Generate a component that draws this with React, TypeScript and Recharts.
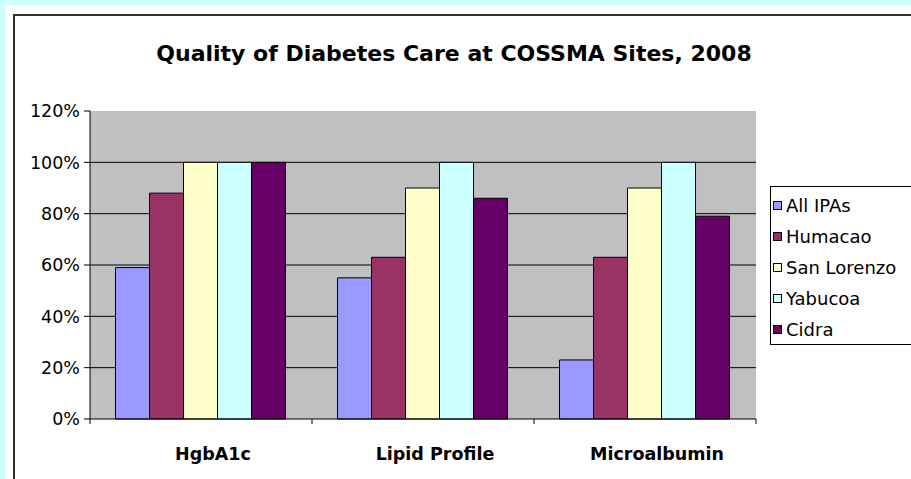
import React from 'react';
import { BarChart, Bar, XAxis, YAxis, CartesianGrid, Legend } from 'recharts';

const categories = ['HgbA1c', 'Lipid Profile', 'Microalbumin'];
const seriesNames = ['All IPAs', 'Humacao', 'San Lorenzo', 'Yabucoa', 'Cidra'];
const allIPAs = [59, 55, 23];
const humacao = [88, 63, 63];
const sanLorenzo = [100, 90, 90];
const yabucoa = [100, 100, 100];
const cidra = [100, 86, 79];
const yTicks = [0, 20, 40, 60, 80, 100, 120];
const gridValues = [20, 40, 60, 80, 100];

const data = categories.map((name, i) => ({
  name,
  allIPAs: allIPAs[i],
  humacao: humacao[i],
  sanLorenzo: sanLorenzo[i],
  yabucoa: yabucoa[i],
  cidra: cidra[i],
}));

const font = '"DejaVu Sans", sans-serif';

const CategoryTick = ({ x, y, payload, index }: any) => {
  const half = payload?.offset ?? 0;
  return (
    <g>
      {index === 0 && <line x1={x - half} y1={y} x2={x - half} y2={y + 5} stroke="#000" />}
      <line x1={x + half} y1={y} x2={x + half} y2={y + 5} stroke="#000" />
      <text
        x={x}
        y={y + 41}
        dx={12}
        textAnchor="middle"
        fill="#000"
        fontSize={17.5}
        fontWeight="bold"
        fontFamily={font}
      >
        {payload.value}
      </text>
    </g>
  );
};

const renderLegend = ({ payload }: any) => {
  const items = [...(payload || [])].sort(
    (a: any, b: any) => seriesNames.indexOf(a.value) - seriesNames.indexOf(b.value)
  );
  return (
    <div
      style={{
        border: '1px solid #000',
        background: '#fff',
        height: 159,
        boxSizing: 'border-box',
        padding: '3px 0 0 2px',
        fontFamily: font,
      }}
    >
      {items.map((entry: any) => (
        <div key={entry.value} style={{ height: 31, display: 'flex', alignItems: 'center' }}>
          <span
            style={{
              display: 'inline-block',
              width: 7,
              height: 7,
              border: '1px solid #000',
              background: entry.color,
              marginRight: 4,
            }}
          />
          <span style={{ fontSize: 18, color: '#000', whiteSpace: 'nowrap' }}>{entry.value}</span>
        </div>
      ))}
    </div>
  );
};

export default function App() {
  return (
    <div
      style={{
        position: 'absolute',
        left: 0,
        top: 0,
        width: 911,
        height: 479,
        background: '#ccffff',
        overflow: 'hidden',
        fontFamily: font,
      }}
    >
      <div style={{ position: 'absolute', left: 5, top: 5, width: 920, height: 490, background: '#fff' }} />
      <div
        style={{
          position: 'absolute',
          left: 13,
          top: 14,
          width: 920,
          height: 490,
          borderLeft: '2px solid #303030',
          borderTop: '2px solid #303030',
        }}
      />
      <div
        style={{
          position: 'absolute',
          left: 0,
          width: 908,
          top: 41,
          lineHeight: '26px',
          textAlign: 'center',
          fontSize: 22,
          fontWeight: 'bold',
          color: '#000',
        }}
      >
        Quality of Diabetes Care at COSSMA Sites, 2008
      </div>
      <div style={{ position: 'absolute', left: 0, top: 0 }}>
        <BarChart
          width={911}
          height={479}
          data={data}
          margin={{ top: 111, right: 155, bottom: 0, left: 0 }}
          barCategoryGap="11.5%"
          barGap={0}
        >
          <CartesianGrid
            vertical={false}
            horizontalValues={gridValues}
            stroke="#000"
            fill="#c0c0c0"
            fillOpacity={1}
          />
          <XAxis
            dataKey="name"
            height={60}
            tickSize={0}
            tickMargin={0}
            tickLine={false}
            axisLine={{ stroke: '#000' }}
            tick={<CategoryTick />}
            interval={0}
          />
          <XAxis
            xAxisId="top"
            orientation="top"
            dataKey="name"
            height={0}
            tick={false}
            tickLine={false}
            axisLine={{ stroke: '#808080' }}
          />
          <YAxis
            width={90}
            domain={[0, 120]}
            ticks={yTicks}
            tickFormatter={(v: number) => `${v}%`}
            tickSize={6}
            tickMargin={4}
            axisLine={{ stroke: '#000' }}
            tickLine={{ stroke: '#000' }}
            tick={{ fill: '#000', fontSize: 17.5, fontFamily: font }}
          />
          <YAxis
            yAxisId="right"
            orientation="right"
            width={0}
            domain={[0, 120]}
            tick={false}
            tickLine={false}
            axisLine={{ stroke: '#808080' }}
          />
          <Legend
            layout="vertical"
            align="center"
            verticalAlign="middle"
            content={renderLegend}
            wrapperStyle={{ left: 770, top: 186, width: 170 }}
          />
          <Bar dataKey="allIPAs" name={seriesNames[0]} fill="#9999ff" stroke="#000" strokeWidth={1} isAnimationActive={false} />
          <Bar dataKey="humacao" name={seriesNames[1]} fill="#993366" stroke="#000" strokeWidth={1} isAnimationActive={false} />
          <Bar dataKey="sanLorenzo" name={seriesNames[2]} fill="#ffffcc" stroke="#000" strokeWidth={1} isAnimationActive={false} />
          <Bar dataKey="yabucoa" name={seriesNames[3]} fill="#ccffff" stroke="#000" strokeWidth={1} isAnimationActive={false} />
          <Bar dataKey="cidra" name={seriesNames[4]} fill="#660066" stroke="#000" strokeWidth={1} isAnimationActive={false} />
        </BarChart>
      </div>
    </div>
  );
}
